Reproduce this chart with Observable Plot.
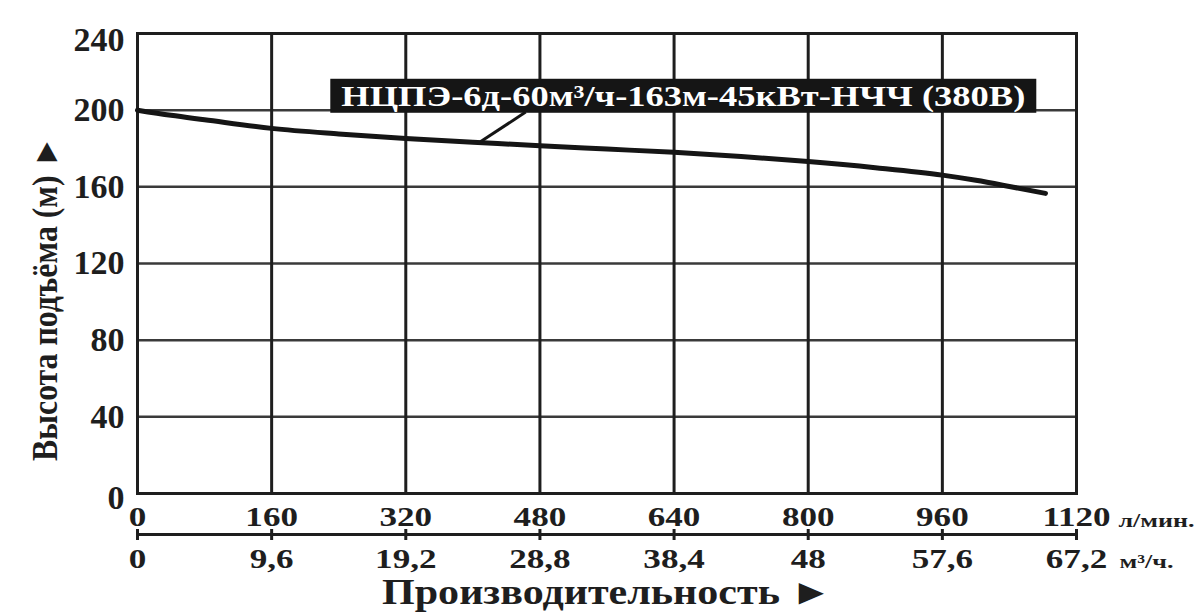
<!DOCTYPE html>
<html>
<head>
<meta charset="utf-8">
<script src="https://cdn.jsdelivr.net/npm/d3@7"></script>
<script src="https://cdn.jsdelivr.net/npm/@observablehq/plot@0.6"></script>
<style>
  html, body { margin: 0; padding: 0; background: #fff; }
</style>
</head>
<body>
<div id="chart"></div>
<script>
// Pump curve data (flow in l/min, head in m)
const flowLpm = [0, 40, 80, 160, 240, 320, 400, 480, 560, 640, 720, 800, 880, 960, 1000, 1040, 1083];
const headM   = [200, 197.3, 195, 190.5, 187.6, 185.2, 183.3, 181.4, 179.7, 178.0, 175.8, 173.2, 170.0, 166.1, 163.4, 160.2, 156.6];

// Ticks / labels
const xTicksLpm = [0, 160, 320, 480, 640, 800, 960, 1120];
const xLabelsM3h = ["0", "9,6", "19,2", "28,8", "38,4", "48", "57,6", "67,2"];
const yTicks = [40, 80, 120, 160, 200];
const yTickTop = [240];
const yTickZero = [0];

// Annotation
const seriesLabel = "НЦПЭ-6д-60м³/ч-163м-45кВт-НЧЧ (380В)";
const labelAnchor = [{x: 651, y: 207.3}];
const leader = [{x1: 409, y1: 183.5, x2: 463, y2: 199}];

const curve = flowLpm.map((q, i) => ({q, h: headM[i]}));
const font = "'Liberation Serif', 'DejaVu Serif', serif";
const ink = "#1e1e1e";

const yAxisOpts = {tickSize: 0, tickPadding: 13, fontSize: 34, fontWeight: "bold", fill: ink};

const chart = Plot.plot({
  width: 1204,
  height: 614,
  marginLeft: 137,
  marginRight: 128,
  marginTop: 33,
  marginBottom: 121,
  x: {domain: [0, 1120], axis: null},
  y: {domain: [0, 240], axis: null},
  style: {fontFamily: font, fontWeight: "bold", color: ink, background: "#fff"},
  marks: [
    Plot.gridY(yTicks, {stroke: "#3a3a3a", strokeOpacity: 1, strokeWidth: 2.5}),
    Plot.gridX(xTicksLpm, {stroke: ink, strokeOpacity: 1, strokeWidth: 3}),
    Plot.frame({stroke: ink, strokeWidth: 3}),
    Plot.line(curve, {x: "q", y: "h", curve: "monotone-x", stroke: "#151515", strokeWidth: 5}),
    Plot.link(leader, {x1: "x1", y1: "y1", x2: "x2", y2: "y2", stroke: "#151515", strokeWidth: 3}),
    Plot.text(labelAnchor, {x: "x", y: "y", text: () => seriesLabel, fill: "#fff", fontSize: 30, fontWeight: "bold", className: "anno"}),
    // Y axis
    Plot.axisY(yTicks, yAxisOpts),
    Plot.axisY(yTickTop, {...yAxisOpts, dy: 7}),
    Plot.axisY(yTickZero, {...yAxisOpts, dy: 5}),
    // X axis, l/min
    Plot.axisX(xTicksLpm, {tickSize: 0, tickPadding: 13, fontSize: 27, fontWeight: "bold", fill: ink,
      tickFormat: d => String(d), className: "xlab1"}),
    // Secondary axis, m3/h
    Plot.ruleY([0], {dy: 41, stroke: ink, strokeWidth: 3}),
    Plot.axisX(xTicksLpm, {dy: 36, tickSize: 11, tickPadding: 8, strokeWidth: 3, stroke: ink, strokeOpacity: 1, fontSize: 27, fontWeight: "bold", fill: ink,
      tickFormat: d => xLabelsM3h[xTicksLpm.indexOf(d)], className: "xlab2"}),
    // Units
    Plot.text(["л/мин."], {frameAnchor: "bottom-right", dx: 42, dy: 27.5, textAnchor: "start", lineAnchor: "middle", fontSize: 19, fontWeight: "bold", fill: ink, className: "unit1"}),
    Plot.text(["м³/ч."], {frameAnchor: "bottom-right", dx: 43, dy: 68.5, textAnchor: "start", lineAnchor: "middle", fontSize: 19, fontWeight: "bold", fill: ink, className: "unit2"}),
    // Titles
    Plot.text(["Производительность ►"], {frameAnchor: "bottom", dy: 99, lineAnchor: "middle", textAnchor: "middle", fontSize: 36, fontWeight: "bold", fill: ink, className: "xtitle"}),
    Plot.text(["Высота подъёма (м) ►"], {frameAnchor: "left", rotate: -90, dx: -92, dy: 35, lineAnchor: "middle", textAnchor: "middle", fontSize: 35, fontWeight: "bold", fill: ink, className: "ytitle"})
  ]
});

document.getElementById("chart").appendChild(chart);

function stretchTo(el, len) {
  el.setAttribute("textLength", len);
  el.setAttribute("lengthAdjust", "spacingAndGlyphs");
}
function stretchBy(el, k) {
  const L = el.getComputedTextLength();
  stretchTo(el, L * k);
}

chart.querySelectorAll("g.xlab1 text, g.xlab2 text").forEach(t => stretchBy(t, 1.3));
const u1 = chart.querySelector("g.unit1 text");
if (u1) stretchTo(u1, 76);
const u2 = chart.querySelector("g.unit2 text");
if (u2) stretchTo(u2, 54);
const xt = chart.querySelector("g.xtitle text");
if (xt) stretchTo(xt, 450);
const yt = chart.querySelector("g.ytitle text");
if (yt) stretchTo(yt, 325);

// Black box behind the series label
const annoText = chart.querySelector("g.anno text");
if (annoText) {
  stretchTo(annoText, 684);
  const bb = annoText.getBBox();
  const padX = 11, padY = 0;
  const rect = document.createElementNS("http://www.w3.org/2000/svg", "rect");
  rect.setAttribute("x", bb.x - padX);
  rect.setAttribute("y", bb.y - padY);
  rect.setAttribute("width", bb.width + 2 * padX);
  rect.setAttribute("height", bb.height + 2 * padY);
  rect.setAttribute("fill", "#151515");
  const tr = annoText.getAttribute("transform");
  if (tr) rect.setAttribute("transform", tr);
  annoText.parentNode.insertBefore(rect, annoText);
}
</script>
</body>
</html>
